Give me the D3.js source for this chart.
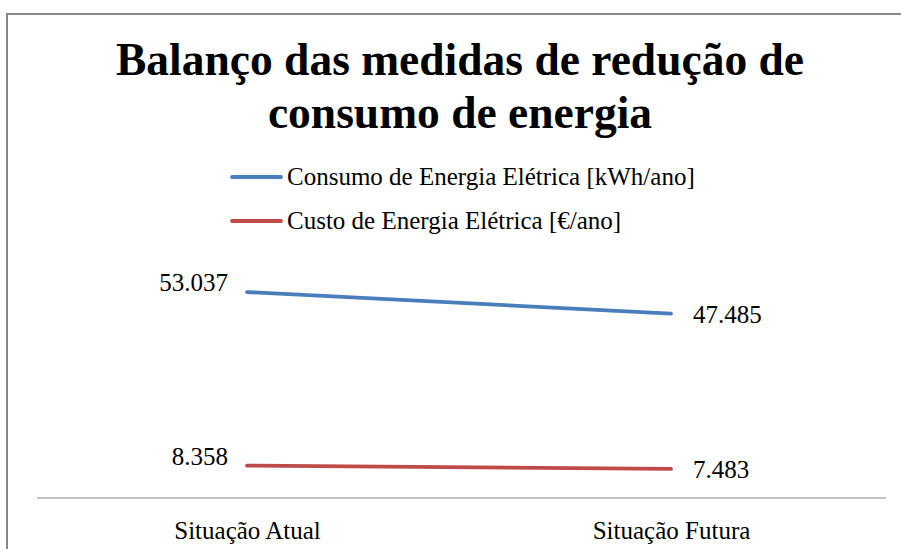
<!DOCTYPE html>
<html>
<head>
<meta charset="utf-8">
<script src="https://cdn.jsdelivr.net/npm/d3@7"></script>
<style>
  html, body { margin: 0; padding: 0; background: #fff; }
  svg { display: block; font-family: "Liberation Serif", "Times New Roman", serif; }
</style>
</head>
<body>
<svg id="chart" width="901" height="549"></svg>
<script>
// Chart data
const categories = ["Situação Atual", "Situação Futura"];
const seriesNames = ["Consumo de Energia Elétrica [kWh/ano]", "Custo de Energia Elétrica [€/ano]"];
const consumoValues = [53037, 47485];
const custoValues = [8358, 7483];
const valueLabels = [["53.037", "47.485"], ["8.358", "7.483"]];
const titleLines = ["Balanço das medidas de redução de", "consumo de energia"];

const colors = ["#4a7ebb", "#be4b48"];
const series = [consumoValues, custoValues].map((vals, i) => ({
  name: seriesNames[i],
  color: colors[i],
  points: vals.map((v, j) => ({ cat: categories[j], value: v, label: valueLabels[i][j] }))
}));

const svg = d3.select("#chart");

// Outer frame of the chart area
svg.append("rect")
  .attr("x", 7).attr("y", 14)
  .attr("width", 910).attr("height", 560)
  .attr("fill", "none")
  .attr("stroke", "#868686")
  .attr("stroke-width", 2);

// Title
const title = svg.append("text")
  .attr("text-anchor", "middle")
  .attr("font-weight", "bold")
  .attr("font-size", 45.5)
  .attr("fill", "#000");
titleLines.forEach((t, i) => {
  title.append("tspan").attr("x", 460).attr("y", 75 + i * 53).text(t);
});

// Legend
const legend = svg.append("g");
series.forEach((s, i) => {
  const y = 177 + i * 44;
  legend.append("line")
    .attr("x1", 232).attr("x2", 281)
    .attr("y1", y).attr("y2", y)
    .attr("stroke", s.color).attr("stroke-width", 3.8)
    .attr("stroke-linecap", "round");
  legend.append("text")
    .attr("x", 287).attr("y", y + 8)
    .attr("font-size", 25).attr("fill", "#000")
    .text(s.name);
});

// Scales
const x = d3.scalePoint().domain(categories).range([35, 883]).padding(0.5);
const y = d3.scaleLinear().domain([0, 60000]).range([498, 265]);

// Category axis
const xAxis = d3.axisBottom(x).tickSize(0).tickPadding(23);
const gx = svg.append("g").attr("transform", "translate(0,498)").call(xAxis);
gx.select(".domain").attr("stroke", "#898989").attr("stroke-width", 1.2)
  .attr("d", "M37,0H886");
gx.selectAll("text")
  .attr("font-family", "Liberation Serif, Times New Roman, serif")
  .attr("font-size", 25).attr("fill", "#000");

// Lines
const line = d3.line().x(d => x(d.cat)).y(d => y(d.value));
series.forEach(s => {
  svg.append("path")
    .datum(s.points)
    .attr("d", line)
    .attr("fill", "none")
    .attr("stroke", s.color)
    .attr("stroke-width", 3.8)
    .attr("stroke-linecap", "round");
});

// Value labels: left point labelled to its upper-left, right point to its right
series.forEach(s => {
  s.points.forEach((p, j) => {
    const px = x(p.cat), py = y(p.value);
    svg.append("text")
      .attr("x", j === 0 ? px - 19 : px + 22)
      .attr("y", j === 0 ? py - 1 : py + 9)
      .attr("text-anchor", j === 0 ? "end" : "start")
      .attr("font-size", 25).attr("fill", "#000")
      .text(p.label);
  });
});
</script>
</body>
</html>
